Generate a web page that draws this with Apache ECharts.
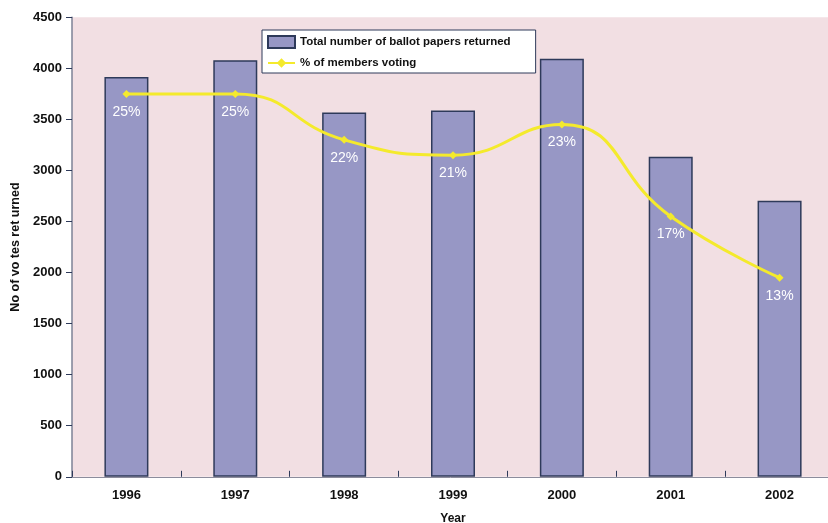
<!DOCTYPE html>
<html>
<head>
<meta charset="utf-8">
<script src="https://cdn.jsdelivr.net/npm/echarts@6/dist/echarts.min.js"></script>
<style>
html,body{margin:0;padding:0;background:#fff;}
#c{width:828px;height:523px;}
</style>
</head>
<body>
<div id="c"></div>
<script>
var years = ['1996', '1997', '1998', '1999', '2000', '2001', '2002'];
var ballotsReturned = [3915, 4080, 3568, 3588, 4094, 3134, 2703];
var percentVoting = [25, 25, 22, 21, 23, 17, 13];

var font = '"Liberation Sans", Arial, sans-serif';
var chart = echarts.init(document.getElementById('c'));
chart.setOption({
  animation: false,
  textStyle: { fontFamily: font },
  grid: {
    left: 72, top: 17.3, width: 762, height: 459.5,
    outerBoundsMode: 'none', containLabel: false,
    show: true, backgroundColor: '#F2DFE3', borderWidth: 0
  },
  legend: {
    left: 262, top: 30, orient: 'vertical',
    backgroundColor: '#ffffff', borderColor: '#2E3A5A', borderWidth: 1,
    padding: [5, 25, 4, 5], itemGap: 8, itemWidth: 27, itemHeight: 12,
    textStyle: { fontFamily: font, fontWeight: 'bold', fontSize: 11.5, color: '#111' },
    data: [
      { name: 'Total number of ballot papers returned', icon: 'rect' },
      { name: '% of members voting' }
    ]
  },
  xAxis: {
    type: 'category', data: years,
    name: 'Year', nameLocation: 'middle', nameGap: 36,
    nameTextStyle: { fontFamily: font, fontWeight: 'bold', fontSize: 12, color: '#111' },
    axisLine: { lineStyle: { color: '#8C8C9C', width: 1 } },
    axisTick: { show: true, inside: true, length: 6, lineStyle: { color: '#2E3A5A' } },
    axisLabel: { fontFamily: font, fontWeight: 'bold', fontSize: 13, color: '#111', margin: 12 }
  },
  yAxis: [{
    type: 'value', min: 0, max: 4500, interval: 500,
    name: 'No of vo tes ret urned', nameLocation: 'middle', nameGap: 45,
    nameTextStyle: { fontFamily: font, fontWeight: 'bold', fontSize: 12.5, color: '#111' },
    axisLine: { show: true, lineStyle: { color: '#7D8296', width: 1.5 } },
    axisTick: { show: true, length: 6, lineStyle: { color: '#2E3A5A' } },
    axisLabel: {
      fontFamily: font, fontWeight: 'bold', fontSize: 13, color: '#111', margin: 10,
      formatter: function (v) { return String(v); }
    },
    splitLine: { show: false }
  }, {
    type: 'value', min: 0, max: 30, show: false, splitLine: { show: false }
  }],
  series: [{
    name: 'Total number of ballot papers returned',
    type: 'bar', data: ballotsReturned, barWidth: 44,
    itemStyle: { color: '#9797C5', borderColor: '#2E3A5A', borderWidth: 1.5 }
  }, {
    name: '% of members voting',
    type: 'line', yAxisIndex: 1, data: percentVoting, smooth: 0.5,
    symbol: 'diamond', symbolSize: 8,
    lineStyle: { color: '#F4EA2C', width: 3 },
    itemStyle: { color: '#F4EA2C' },
    label: {
      show: true, position: 'bottom', distance: 7, formatter: '{c}%',
      color: '#ffffff', fontSize: 14, fontFamily: font
    }
  }]
});
</script>
</body>
</html>
